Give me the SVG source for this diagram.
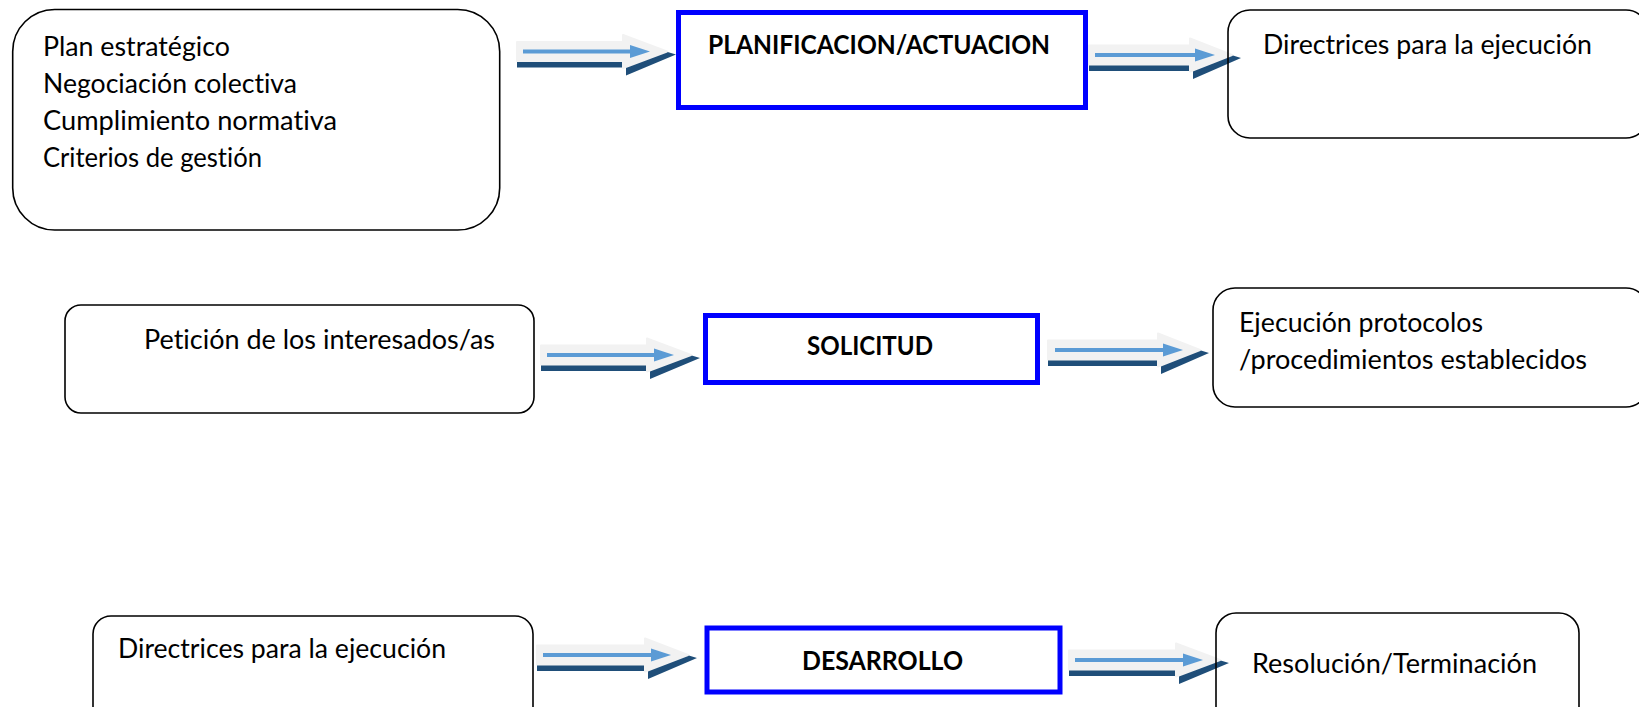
<svg xmlns="http://www.w3.org/2000/svg" width="1639" height="707" viewBox="0 0 1639 707">
<defs>
<style>
.box{fill:none;stroke:#000;stroke-width:1.6}
.pbox{fill:none;stroke:#0000ff;stroke-width:5}
.t{font-family:Lato,"Open Sans","Liberation Sans",sans-serif;font-size:27px;fill:#000;font-variant-ligatures:none}
.b{font-family:Lato,"Open Sans","Liberation Sans",sans-serif;font-size:27px;font-weight:bold;fill:#000;font-variant-ligatures:none}
.gray{fill:#f2f2f2;stroke:#f2f2f2;stroke-width:2;stroke-linejoin:round}
.shadow{fill:#1f4e79}
.line{stroke:#5b9bd5;stroke-width:4}
.head{fill:#5b9bd5}
</style>
</defs>
<rect width="1639" height="707" fill="#fff"/>
<g id="connectors">
  <g id="a1">
    <polygon class="shadow" points="517,46.5 626,46.5 626,39.5 676,54.5 626,75.5 626,67.5 517,67.5"/>
    <polygon class="gray" points="517,42 623,42 623,35 667,51.5 623,68 623,61 517,61"/>
    <line class="line" x1="523" y1="51.5" x2="632" y2="51.5"/>
    <polygon class="head" points="630,45 650,51.5 630,58"/>
  </g>
  <g id="a2">
    <polygon class="shadow" points="1089,50 1193,50 1193,43 1241,58 1193,79 1193,71 1089,71"/>
    <polygon class="gray" points="1089,45.5 1190,45.5 1190,38.5 1232,55 1190,71.5 1190,64.5 1089,64.5"/>
    <line class="line" x1="1095" y1="55" x2="1197" y2="55"/>
    <polygon class="head" points="1195,48.5 1215,55 1195,61.5"/>
  </g>
  <g id="a3">
    <polygon class="shadow" points="541,350 650,350 650,343 700,358 650,379 650,371 541,371"/>
    <polygon class="gray" points="541,345.5 647,345.5 647,338.5 691,355 647,371.5 647,364.5 541,364.5"/>
    <line class="line" x1="547" y1="355" x2="656" y2="355"/>
    <polygon class="head" points="654,348.5 674,355 654,361.5"/>
  </g>
  <g id="a4">
    <polygon class="shadow" points="1048,345 1161,345 1161,338 1209,353 1161,374 1161,366 1048,366"/>
    <polygon class="gray" points="1048,340.5 1158,340.5 1158,333.5 1200,350 1158,366.5 1158,359.5 1048,359.5"/>
    <line class="line" x1="1055" y1="350" x2="1165" y2="350"/>
    <polygon class="head" points="1163,343.5 1183,350 1163,356.5"/>
  </g>
  <g id="a5">
    <polygon class="shadow" points="537,650 648,650 648,643 697,658 648,679 648,671 537,671"/>
    <polygon class="gray" points="537,645.5 645,645.5 645,638.5 688,655 645,671.5 645,664.5 537,664.5"/>
    <line class="line" x1="543" y1="655" x2="653" y2="655"/>
    <polygon class="head" points="651,648.5 671,655 651,661.5"/>
  </g>
  <g id="a6">
    <polygon class="shadow" points="1069,655 1179,655 1179,648 1229,663 1179,684 1179,676 1069,676"/>
    <polygon class="gray" points="1069,650.5 1176,650.5 1176,643.5 1220,660 1176,676.5 1176,669.5 1069,669.5"/>
    <line class="line" x1="1075" y1="660" x2="1185" y2="660"/>
    <polygon class="head" points="1183,653.5 1203,660 1183,666.5"/>
  </g>
</g>
<g id="n-inputs1">
  <rect class="box" x="12.7" y="9.5" width="487" height="220.5" rx="42"/>
  <text class="t" x="43" y="56" textLength="187" lengthAdjust="spacingAndGlyphs">Plan estratégico</text>
  <text class="t" x="43" y="93" textLength="254" lengthAdjust="spacingAndGlyphs">Negociación colectiva</text>
  <text class="t" x="43" y="130" textLength="294" lengthAdjust="spacingAndGlyphs">Cumplimiento normativa</text>
  <text class="t" x="43" y="167" textLength="219" lengthAdjust="spacingAndGlyphs">Criterios de gestión</text>
</g>
<g id="n-planificacion">
  <rect class="pbox" x="678.5" y="12.5" width="407" height="95"/>
  <text class="b" x="708" y="54" textLength="342" lengthAdjust="spacingAndGlyphs">PLANIFICACION/ACTUACION</text>
</g>
<g id="n-directrices1">
  <rect class="box" x="1228" y="10" width="420" height="128" rx="22"/>
  <text class="t" x="1263" y="54" textLength="329" lengthAdjust="spacingAndGlyphs">Directrices para la ejecución</text>
</g>
<g id="n-peticion">
  <rect class="box" x="65" y="305" width="469" height="108" rx="16"/>
  <text class="t" x="144" y="349" textLength="351" lengthAdjust="spacingAndGlyphs">Petición de los interesados/as</text>
</g>
<g id="n-solicitud">
  <rect class="pbox" x="705.5" y="315.5" width="332" height="67"/>
  <text class="b" x="807" y="355" textLength="126" lengthAdjust="spacingAndGlyphs">SOLICITUD</text>
</g>
<g id="n-ejecucion">
  <rect class="box" x="1213" y="288" width="435" height="119" rx="22"/>
  <text class="t" x="1239" y="332" textLength="244" lengthAdjust="spacingAndGlyphs">Ejecución protocolos</text>
  <text class="t" x="1239" y="369" textLength="348" lengthAdjust="spacingAndGlyphs">/procedimientos establecidos</text>
</g>
<g id="n-directrices2">
  <rect class="box" x="93" y="616" width="440" height="110" rx="18"/>
  <text class="t" x="118" y="658" textLength="328" lengthAdjust="spacingAndGlyphs">Directrices para la ejecución</text>
</g>
<g id="n-desarrollo">
  <rect class="pbox" x="707" y="628" width="353" height="64"/>
  <text class="b" x="802" y="670" textLength="161" lengthAdjust="spacingAndGlyphs">DESARROLLO</text>
</g>
<g id="n-resolucion">
  <rect class="box" x="1216" y="613" width="363" height="115" rx="20"/>
  <text class="t" x="1252" y="673" textLength="285" lengthAdjust="spacingAndGlyphs">Resolución/Terminación</text>
</g>
</svg>
